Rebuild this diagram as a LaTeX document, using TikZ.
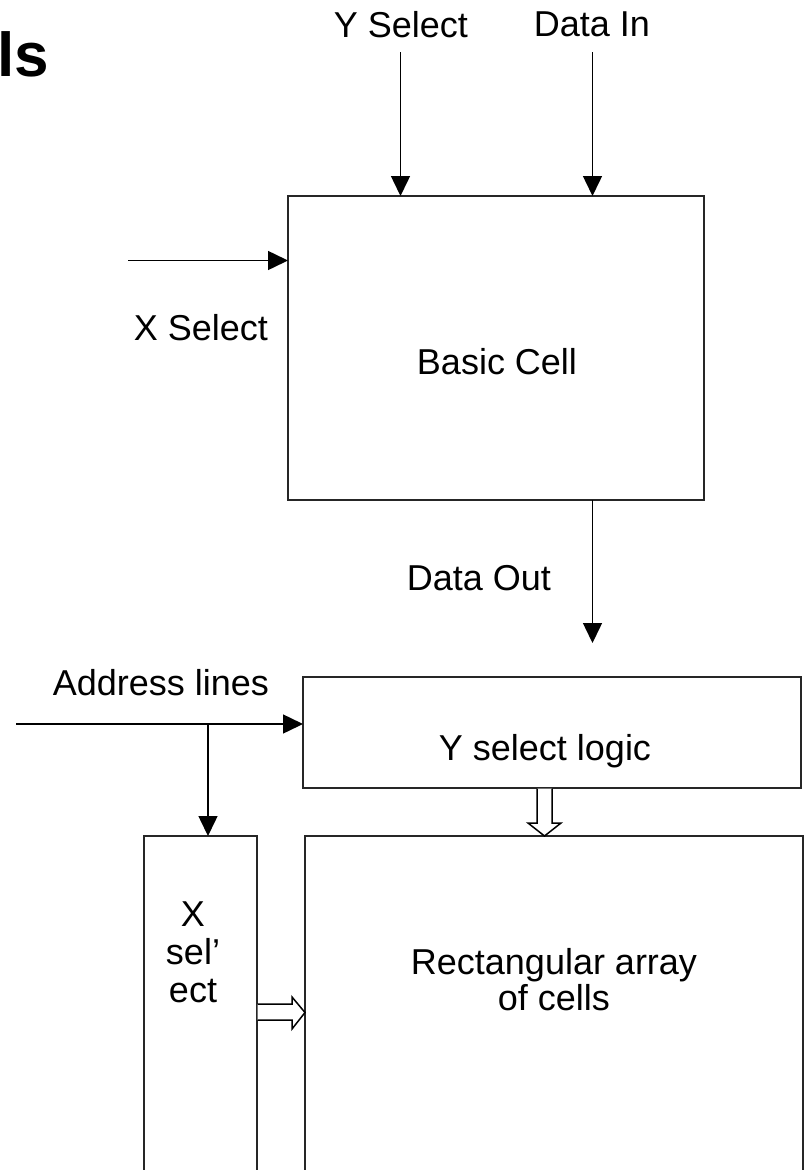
\documentclass[tikz,border=0pt]{standalone}
\usepackage{fontspec}
\setmainfont{Liberation Sans}
\usetikzlibrary{arrows.meta}
\begin{document}
\begin{tikzpicture}[x=1pt,y=-1pt,
  box/.style={draw=black!85, line width=1.6pt, inner sep=0pt, outer sep=0pt, fill=none},
  lbl/.style={inner sep=0pt, anchor=base, font=\fontsize{36}{41}\selectfont},
  arr/.style={line width=1.5pt, -{Triangle[length=20pt,width=19pt]}},
  hollow/.style={draw=black, line width=1.5pt, fill=white, line join=miter}]
\useasboundingbox (0,0) rectangle (806,1170);
\clip (0,0) rectangle (806,1170);
% title fragment
\node[inner sep=0pt, anchor=base west, font=\fontsize{62}{62}\selectfont\bfseries] (title) at (-3,76) {ls};
% boxes
\node[box, minimum width=416pt, minimum height=304pt] (cell) at (496,348) {};
\node[box, minimum width=498pt, minimum height=111pt] (ylog) at (552,732.5) {};
\node[box, minimum width=113pt, minimum height=400pt] (xsel) at (200.5,1036) {};
\node[box, minimum width=498pt, minimum height=400pt] (array) at (554,1036) {};
% texts
\node[lbl] (tys) at (401,37) {Y Select};
\node[lbl] (tdi) at (592,36) {Data In};
\node[lbl] (txs) at (201,340) {X Select};
\node[lbl] (tbc) at (497,374) {Basic Cell};
\node[lbl] (tdo) at (479,590) {Data Out};
\node[lbl] (tad) at (161,695) {Address lines};
\node[lbl] (tyl) at (545,760) {Y select logic};
\node[lbl] (tx1) at (193,926) {X};
\node[lbl] (tx2) at (193,964) {sel’};
\node[lbl] (tx3) at (193,1002) {ect};
\node[lbl] (tr1) at (554,974) {Rectangular array};
\node[lbl] (tr2) at (554,1010) {of cells};
% connector start points
\coordinate (ys0) at (400.5,52);
\coordinate (di0) at (592.5,52);
\coordinate (xs0) at (128,260.5);
\coordinate (do1) at (592.5,643);
\coordinate (ad0) at (16,724);
\coordinate (br) at (208,724);
% arrows
\draw[arr] (ys0) -- (ys0 |- cell.north);
\draw[arr] (di0) -- (di0 |- cell.north);
\draw[arr] (xs0) -- (xs0 -| cell.west);
\draw[arr] (do1 |- cell.south) -- (do1);
\draw[arr] (ad0) -- (ad0 -| ylog.west);
\draw[arr] (br) -- (br |- xsel.north);
% hollow arrows
\draw[hollow] (537,788.5) -- (537,823) -- (528,823) -- (544.5,836) -- (561,823) -- (552,823) -- (552,788.5);
\draw[hollow] (257.5,1004) -- (292,1004) -- (292,997) -- (305,1012.5) -- (292,1029) -- (292,1020) -- (257.5,1020);
\end{tikzpicture}
\end{document}
